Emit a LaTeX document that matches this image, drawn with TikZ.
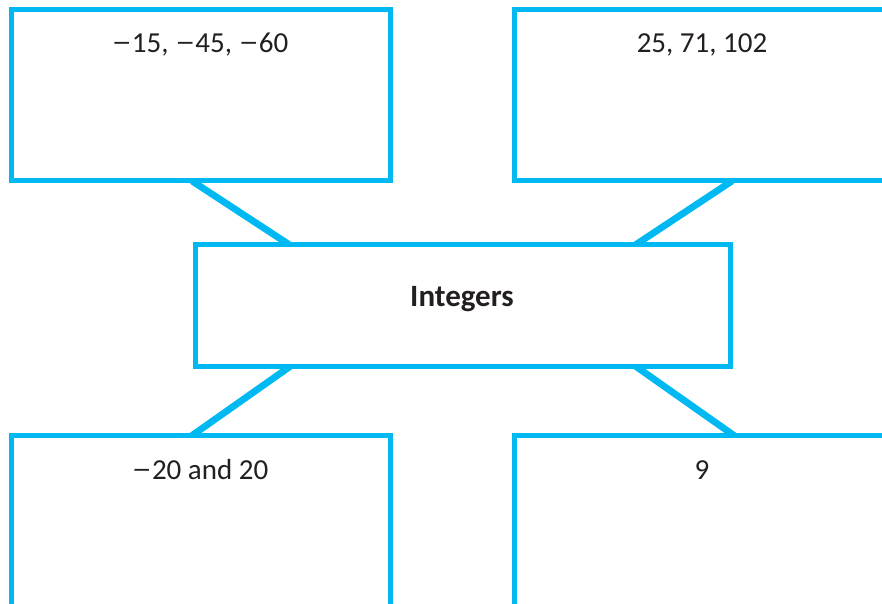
\documentclass[tikz,border=0pt]{standalone}
\usepackage{fontspec}
\setmainfont{Carlito}
\definecolor{boxcyan}{HTML}{00B9F2}
\definecolor{txtdark}{HTML}{231F20}
\newcommand{\mneg}{\makebox[0.7em][c]{\scalebox{1.35}[1]{−}}}
\begin{document}
\begin{tikzpicture}[x=1pt,y=-1pt,
  boxframe/.style={draw=boxcyan,line width=5pt,rectangle,inner sep=0pt,outer sep=0pt},
  link/.style={draw=boxcyan,line width=6.8pt},
  label/.style={text=txtdark,font=\fontsize{29}{34}\selectfont,anchor=base,inner sep=0pt}]
\useasboundingbox (0,0) rectangle (882,604);
\clip (0,0) rectangle (882,604);
% connectors
\coordinate (c1a) at (192,181); \coordinate (c1b) at (289,244.5);
\coordinate (c2a) at (732,181); \coordinate (c2b) at (636,244.5);
\coordinate (c3a) at (290,366.5); \coordinate (c3b) at (192,435.5);
\coordinate (c4a) at (636,366.5); \coordinate (c4b) at (734,435.5);
\draw[link] (c1a) -- (c1b);
\draw[link] (c2a) -- (c2b);
\draw[link] (c3a) -- (c3b);
\draw[link] (c4a) -- (c4b);
% boxes
\node[boxframe,minimum width=379pt,minimum height=171pt] (tl) at (201,95) {};
\node[boxframe,minimum width=376pt,minimum height=171pt] (tr) at (702.5,95) {};
\node[boxframe,minimum width=535pt,minimum height=122pt] (ctr) at (463,305.5) {};
\node[boxframe,minimum width=379pt,minimum height=173pt] (bl) at (201,522) {};
\node[boxframe,minimum width=376pt,minimum height=173pt] (br) at (702.5,522) {};
% texts
\node[label] (tlt) at (200,53) {\mneg15, \mneg45, \mneg60};
\node[label] (trt) at (702,53) {25, 71, 102};
\node[label,font=\fontsize{31}{36}\selectfont\bfseries] (ct) at (462,306) {Integers};
\node[label] (blt) at (200,479) {\mneg20 and 20};
\node[label] (brt) at (702,479) {9};
\end{tikzpicture}
\end{document}
